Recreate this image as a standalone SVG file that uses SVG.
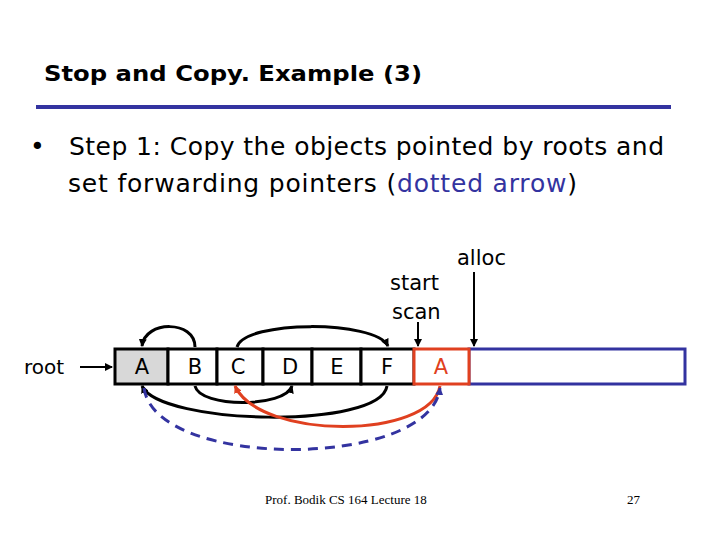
<svg xmlns="http://www.w3.org/2000/svg" width="720" height="540" viewBox="0 0 720 540">
<defs>
<marker id="ah" markerWidth="8" markerHeight="8" refX="7" refY="4" orient="auto" markerUnits="userSpaceOnUse"><path d="M0,0 L8,4 L0,8 z" fill="#000"/></marker>
<marker id="ahr" markerWidth="8" markerHeight="8" refX="7" refY="4" orient="auto" markerUnits="userSpaceOnUse"><path d="M0,0 L8,4 L0,8 z" fill="#e04020"/></marker>
<marker id="ahb" markerWidth="8" markerHeight="8" refX="7" refY="4" orient="auto" markerUnits="userSpaceOnUse"><path d="M0,0 L8,4 L0,8 z" fill="#3333a0"/></marker>
</defs>
<style>
text{font-family:"DejaVu Sans","Liberation Sans",sans-serif;fill:#000}
.c{font-size:21px;text-anchor:middle}
.cell{fill:#fff;stroke:#000;stroke-width:3}
.bl{fill:none;stroke:#000;stroke-width:3}
</style>
<rect width="720" height="540" fill="#fff"/>
<text x="44" y="81" font-size="22" font-weight="bold" textLength="378" lengthAdjust="spacingAndGlyphs">Stop and Copy. Example (3)</text>
<line x1="36" y1="107" x2="671" y2="107" stroke="#3333a0" stroke-width="4"/>
<text x="30" y="155" font-size="25">•</text>
<text x="69" y="155" font-size="25" textLength="595">Step 1: Copy the objects pointed by roots and</text>
<text x="68" y="192" font-size="25" textLength="509">set forwarding pointers (<tspan fill="#3333a0">dotted arrow</tspan>)</text>
<text x="457" y="265" font-size="21">alloc</text>
<text x="390" y="290" font-size="21">start</text>
<text x="392" y="319" font-size="21">scan</text>
<text x="24" y="374" font-size="20">root</text>
<g id="connectors">
<line x1="80" y1="367" x2="112" y2="367" stroke="#000" stroke-width="2" marker-end="url(#ah)"/>
<line x1="418" y1="322" x2="418" y2="346" stroke="#000" stroke-width="2" marker-end="url(#ah)"/>
<line x1="474" y1="272" x2="474" y2="346" stroke="#000" stroke-width="2" marker-end="url(#ah)"/>
</g>
<g id="cells">
<rect x="115" y="349" width="53" height="35" fill="#d8d8d8" stroke="#000" stroke-width="3"/>
<rect class="cell" x="168" y="349" width="49" height="35"/>
<rect class="cell" x="217" y="349" width="46" height="35"/>
<rect class="cell" x="263" y="349" width="49" height="35"/>
<rect class="cell" x="312" y="349" width="49" height="35"/>
<rect class="cell" x="361" y="349" width="53" height="35"/>
<rect x="469" y="349" width="216" height="35" fill="#fff" stroke="#3333a0" stroke-width="3"/>
<rect x="414" y="349" width="55" height="35" fill="#fff" stroke="#e04020" stroke-width="3"/>
<text x="142" y="374" class="c">A</text>
<text x="195" y="374" class="c">B</text>
<text x="238" y="374" class="c">C</text>
<text x="290" y="374" class="c">D</text>
<text x="337" y="374" class="c">E</text>
<text x="387" y="374" class="c">F</text>
<text x="441" y="374" class="c" style="fill:#e04020">A</text>
</g>
<g id="arrows">
<path class="bl" d="M195,347 C195,320 145,320 142,346" marker-end="url(#ah)"/>
<path class="bl" d="M237,347 C245,320 375,320 388,346" marker-end="url(#ah)"/>
<path class="bl" d="M195,386 C200,408 285,408 292,386" marker-end="url(#ah)"/>
<path class="bl" d="M387,386 C380,430 160,425 142,386" marker-end="url(#ah)"/>
<path d="M440,386 C430,440 260,440 235,386" fill="none" stroke="#e04020" stroke-width="3" marker-end="url(#ahr)"/>
<path d="M144,388 C155,470 430,470 440,388" fill="none" stroke="#3333a0" stroke-width="3" stroke-dasharray="10,7" marker-end="url(#ahb)"/>
</g>
<text x="265" y="504" font-size="13" style="font-family:'Liberation Serif',serif">Prof. Bodik  CS 164  Lecture 18</text>
<text x="627" y="504" font-size="13" style="font-family:'Liberation Serif',serif">27</text>
</svg>
